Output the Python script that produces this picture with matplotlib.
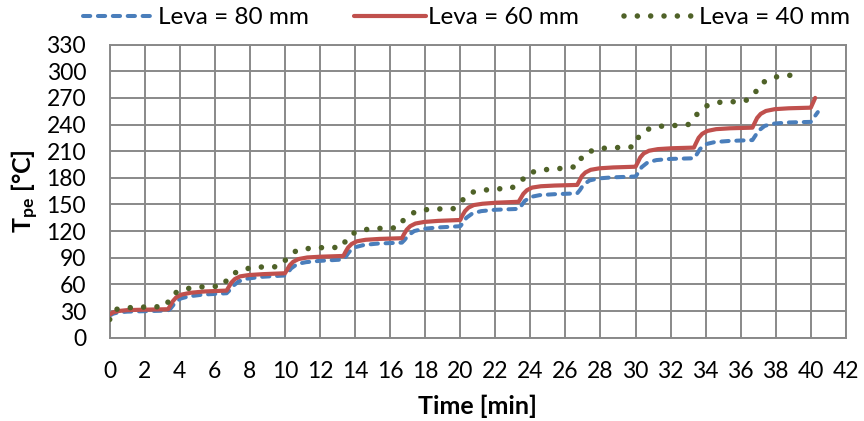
import numpy as np
import matplotlib.pyplot as plt

plt.rcParams['font.family'] = ['Lato', 'DejaVu Sans']
plt.rcParams['mathtext.fontset'] = 'custom'
plt.rcParams['mathtext.rm'] = 'Lato'
plt.rcParams['mathtext.bf'] = 'Lato:bold'

# Leva = 80 mm
t80 = [0, 0.2, 0.5, 1.0, 2.0, 3.33,
       3.48, 3.68, 4.03, 4.53, 5.33, 6.67,
       6.82, 7.02, 7.37, 7.87, 8.67, 10.0,
       10.15, 10.35, 10.7, 11.2, 12.0, 13.33,
       13.48, 13.68, 14.03, 14.53, 15.33, 16.67,
       16.82, 17.02, 17.37, 17.87, 18.67, 20.0,
       20.15, 20.35, 20.7, 21.2, 22.0, 23.33,
       23.48, 23.68, 24.03, 24.53, 25.33, 26.67,
       26.82, 27.02, 27.37, 27.87, 28.67, 30.0,
       30.15, 30.35, 30.7, 31.2, 32.0, 33.33,
       33.48, 33.68, 34.03, 34.53, 35.33, 36.67,
       36.82, 37.02, 37.37, 37.87, 38.67, 40.0,
       40.4]
T80 = [25, 27, 28.5, 29.3, 29.8, 30.5,
       33, 38, 44, 46.5, 48.5, 50,
       53, 58, 63.5, 66.5, 68.5, 70,
       73, 78, 83, 85, 86.5, 88,
       91.5, 97, 102, 104.5, 106, 107,
       110, 115, 120, 122.5, 124, 125.5,
       129, 135, 140, 142.5, 144, 145,
       148.5, 154, 158.5, 160.5, 161.5, 162.5,
       166, 172, 177, 179.3, 180.5, 181.5,
       185.5, 192, 197.5, 200, 201.3, 202,
       206, 212.5, 218, 220.3, 221.5, 222.5,
       227, 233, 238.5, 241, 242.3, 243,
       254]

# Leva = 60 mm
t60 = [0, 0.2, 0.5, 1.0, 2.0, 3.33,
       3.45, 3.6, 3.8, 4.1, 4.6, 5.4, 6.67,
       6.79, 6.94, 7.14, 7.44, 7.94, 8.74, 10.0,
       10.12, 10.27, 10.47, 10.77, 11.27, 12.07, 13.33,
       13.45, 13.6, 13.8, 14.1, 14.6, 15.4, 16.67,
       16.79, 16.94, 17.14, 17.44, 17.94, 18.74, 20.0,
       20.12, 20.27, 20.47, 20.77, 21.27, 22.07, 23.33,
       23.45, 23.6, 23.8, 24.1, 24.6, 25.4, 26.67,
       26.79, 26.94, 27.14, 27.44, 27.94, 28.74, 30.0,
       30.12, 30.27, 30.47, 30.77, 31.27, 32.07, 33.33,
       33.45, 33.6, 33.8, 34.1, 34.6, 35.4, 36.67,
       36.79, 36.94, 37.14, 37.44, 37.94, 38.74, 40.0,
       40.25]
T60 = [26, 28.5, 30, 31, 31.5, 32,
       36, 41, 45.5, 48.5, 50.5, 52, 53,
       57, 62, 66, 69, 70.5, 71.5, 72.5,
       76.5, 81.5, 85.5, 88.5, 90.3, 91.2, 92,
       96.5, 101.5, 105.5, 108.5, 110.2, 111.2, 112,
       116.5, 121.5, 125.5, 128.5, 130.3, 131.5, 132.5,
       137.5, 142.5, 146.5, 149.3, 150.8, 152, 153,
       157, 162, 166, 169, 170.5, 171.3, 172,
       176.5, 182, 186, 189, 190.7, 191.7, 192.5,
       197, 203, 207.5, 210.5, 212.3, 213.3, 214,
       219, 225, 229.5, 232.8, 234.8, 235.8, 236.5,
       241.5, 247.5, 252, 255.3, 257.3, 258.3, 259,
       270]

# Leva = 40 mm
t40 = [0, 0.3, 1.0, 1.8, 2.5, 3.2,
       3.57, 4.24, 4.96, 5.72, 6.45,
       6.82, 7.43, 8.16, 8.9, 9.64,
       10.06, 10.63, 11.0, 11.77, 12.5, 13.25,
       13.6, 14.22, 14.95, 15.7, 16.43,
       16.8, 17.42, 18.14, 18.9, 19.64,
       20.08, 20.6, 21.3, 22.1, 22.87,
       23.4, 23.85, 24.55, 25.3, 26.03, 26.7,
       27.0, 27.7, 28.4, 29.2, 29.9,
       30.2, 30.8, 31.5, 32.3, 33.0,
       33.5, 34.05, 34.75, 35.5, 36.26,
       36.75, 37.1, 37.76, 38.47, 39.2]
T40 = [20.5, 31.7, 33.6, 34.4, 34.5, 35.5,
       49, 54.6, 56.9, 57.6, 58,
       69.3, 76, 79, 79.8, 79.8,
       88, 97.8, 99.7, 101.2, 101.5, 101.6,
       114.3, 120.7, 122.6, 123.3, 123.7,
       133.5, 141.7, 144.4, 145, 145.3,
       154, 163.5, 166, 167.6, 167.8,
       174.3, 185, 188.6, 190, 190.9, 193,
       206.3, 212, 213.8, 214.2, 214.9,
       227, 235.6, 238.2, 239, 240,
       251.4, 261, 265, 265.6, 266.7,
       273, 285.5, 292.6, 295.3, 295.6]

xticks = np.arange(0, 43, 2)
yticks = np.arange(0, 331, 30)

fig = plt.figure(figsize=(8.64, 4.21), dpi=100)
ax = fig.add_axes([0.127, 0.198, 0.852, 0.696])

ax.plot(t80, T80, color='#4a7ebb', lw=2.9, linestyle=(0, (1.8, 1.9)),
        dash_capstyle='round', label='Leva = 80 mm', zorder=3)
ax.plot(t60, T60, color='#c0504d', lw=3.0, solid_capstyle='round',
        label='Leva = 60 mm', zorder=4)
ax.plot(t40, T40, color='#4f6228', lw=4.0, linestyle=(0, (0.001, 2.4)),
        dash_capstyle='round', label='Leva = 40 mm', zorder=5)

ax.set_xlim(0, 42)
ax.set_ylim(0, 330)
ax.set_xticks(xticks)
ax.set_yticks(yticks)
ax.grid(True, color='#898989', lw=1.4)
ax.set_axisbelow(True)
for s in ax.spines.values():
    s.set_color('#898989')
    s.set_linewidth(1.4)
ax.tick_params(length=0, labelsize=16.5, colors='black')
ax.tick_params(axis='y', pad=17)
ax.tick_params(axis='x', pad=17)

ax.set_xlabel('Time [min]', fontsize=18, fontweight='bold', labelpad=9)
ax.set_ylabel(r'$\mathbf{T_{pe}}$ [°C]', fontsize=18, fontweight='bold', labelpad=4)

fig.legend(loc='center', bbox_to_anchor=(0.54, 0.958), ncol=3, frameon=False,
           fontsize=17.5, handlelength=2.96, handletextpad=0.12, columnspacing=1.85)

fig.savefig('out.png', dpi=100)
